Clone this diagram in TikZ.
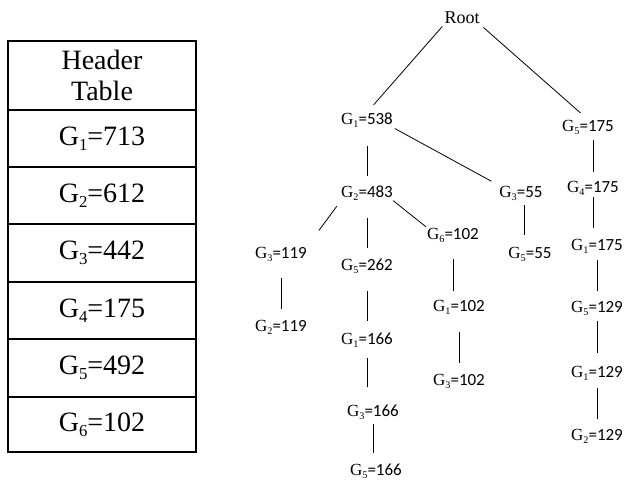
\documentclass[tikz,border=0pt]{standalone}
\usepackage{fontspec}
\setmainfont{Liberation Serif}
\newfontfamily\calfont{Carlito}
\newcommand\lo[1]{\raisebox{-0.4ex}{\scalebox{0.6}{#1}}}
\newcommand\gl[2]{G\lo{#1}{\calfont=#2}}
\newcommand\tg[2]{G\lo{#1}=#2}
\tikzset{
  cell/.style={draw, line width=1.8pt, minimum width=188, inner sep=0pt, outer sep=0pt,
    align=center, font=\fontsize{28}{31}\selectfont},
  gn/.style={font=\fontsize{17}{19}\selectfont, inner sep=0pt},
  rootn/.style={font=\fontsize{18}{20}\selectfont, inner sep=0pt},
  edge/.style={line width=0.8pt},
}
\begin{document}
\begin{tikzpicture}[x=1pt, y=-1pt]
\useasboundingbox (0,0) rectangle (627,481);
% header table
\node[cell, minimum height=69] (hdr) at (102,75.5) {Header\\Table};
\node[cell, minimum height=57] (t1) at (102,138.5) {\tg{1}{713}};
\node[cell, minimum height=57] (t2) at (102,195.5) {\tg{2}{612}};
\node[cell, minimum height=58] (t3) at (102,253) {\tg{3}{442}};
\node[cell, minimum height=57] (t4) at (102,310.5) {\tg{4}{175}};
\node[cell, minimum height=58] (t5) at (102,368) {\tg{5}{492}};
\node[cell, minimum height=55] (t6) at (102,424.5) {\tg{6}{102}};
% tree
\node[rootn] (root) at (462,18) {Root};
\node[gn] (g1) at (367,120) {\gl{1}{538}};
\node[gn] (g5a) at (588,127) {\gl{5}{175}};
\node[gn] (g2) at (367,193) {\gl{2}{483}};
\node[gn] (g3a) at (521,193) {\gl{3}{55}};
\node[gn] (g4a) at (593,188) {\gl{4}{175}};
\node[gn] (g6) at (453,235) {\gl{6}{102}};
\node[gn] (g3b) at (281,254) {\gl{3}{119}};
\node[gn] (g5b) at (367,266) {\gl{5}{262}};
\node[gn] (g5c) at (530,254) {\gl{5}{55}};
\node[gn] (g1a) at (597,246) {\gl{1}{175}};
\node[gn] (g2b) at (281,327) {\gl{2}{119}};
\node[gn] (g1c) at (459,307) {\gl{1}{102}};
\node[gn] (g5e) at (597,308) {\gl{5}{129}};
\node[gn] (g1b) at (367,340) {\gl{1}{166}};
\node[gn] (g3d) at (459,381) {\gl{3}{102}};
\node[gn] (g1d) at (597,373) {\gl{1}{129}};
\node[gn] (g3c) at (373,412) {\gl{3}{166}};
\node[gn] (g2c) at (597,436) {\gl{2}{129}};
\node[gn] (g5d) at (376,471) {\gl{5}{166}};
% edges
\draw[edge, shorten <=3, shorten >=10] (root.south west) -- (g1.north);
\draw[edge, shorten <=5, shorten >=10] (root.south east) -- (g5a.north);
\draw[edge, shorten <=18, shorten >=9] (g1.south) -- (g2.north);
\draw[edge, shorten <=2, shorten >=9] (g1.south east) -- (g3a.north west);
\draw[edge, shorten <=6, shorten >=9] (g4a.north |- g5a.south) -- (g4a.north);
\draw[edge, shorten <=7, shorten >=20] (g2.south west) -- (g3b.north east);
\draw[edge, shorten <=0, shorten >=1] (g2.south east) -- (g6.north west);
\draw[edge, shorten <=17, shorten >=10] (g2.south) -- (g5b.north);
\draw[edge, shorten <=5, shorten >=12] ([xshift=3]g3a.south) -- ([xshift=3]g3a.south |- g5c.north);
\draw[edge, shorten <=2, shorten >=11] (g4a.south) -- (g4a.south |- g1a.north);
\draw[edge, shorten <=17, shorten >=11] (g3b.south) -- (g2b.north);
\draw[edge, shorten <=17, shorten >=11] (g5b.south) -- (g1b.north);
\draw[edge, shorten <=10, shorten >=17] (g1b.south) -- (g1b.south |- g3c.north);
\draw[edge, shorten <=4, shorten >=10] (g3c.south) -- (g3c.south |- g5d.north);
\draw[edge, shorten <=17, shorten >=9] (g6.south) -- (g6.south |- g1c.north);
\draw[edge, shorten <=18, shorten >=11] (g1c.south) -- (g3d.north);
\draw[edge, shorten <=7, shorten >=10] (g1a.south) -- (g5e.north);
\draw[edge, shorten <=6, shorten >=13] (g5e.south) -- (g1d.north);
\draw[edge, shorten <=8, shorten >=10] (g1d.south) -- (g2c.north);
\end{tikzpicture}
\end{document}
